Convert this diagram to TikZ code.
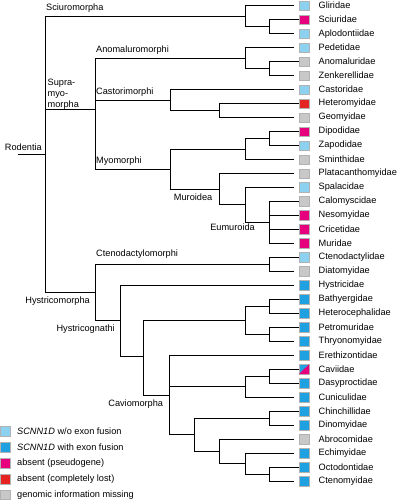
\documentclass[tikz,border=0pt]{standalone}
\usepackage{fontspec}
\setmainfont{Liberation Sans}
\usetikzlibrary{positioning}

\tikzstyle{fam} = [draw=black!30, rectangle, line width=0.3pt, inner sep=0pt,
                   minimum width=10pt, minimum height=9.6pt]
\tikzstyle{nm} = [label distance=6pt]
\tikzstyle{branch} = [draw, line width=0.9pt]
\tikzstyle{tip} = [branch, shorten >=4.6pt]
\tikzstyle{clade} = [anchor=base west, inner sep=0pt, xshift=1pt, yshift=5.8pt]
\tikzstyle{cladeb} = [anchor=base east, inner sep=0pt, xshift=-5pt, yshift=-11pt]

\begin{document}
\begin{tikzpicture}[x=1pt, y=-1pt, node distance=6pt,
                    font=\fontsize{9.2}{10.8}\selectfont]

\definecolor{fillL}{HTML}{8CD2F0}
\definecolor{fillB}{HTML}{1EA0E1}
\definecolor{fillM}{HTML}{E6007E}
\definecolor{fillR}{HTML}{E52421}
\definecolor{fillG}{HTML}{C8C8C8}

\def\xL{304}

\useasboundingbox (0,0) rectangle (398,500);

\node[fam,fill=fillL,label={[nm]right:Gliridae}] (Glir) at (\xL,5.7) {};
\node[fam,fill=fillM,label={[nm]right:Sciuridae}] (Sciu) at (\xL,19.68) {};
\node[fam,fill=fillL,label={[nm]right:Aplodontiidae}] (Aplo) at (\xL,33.66) {};
\node[fam,fill=fillL,label={[nm]right:Pedetidae}] (Pede) at (\xL,47.64) {};
\node[fam,fill=fillG,label={[nm]right:Anomaluridae}] (Anom) at (\xL,61.62) {};
\node[fam,fill=fillG,label={[nm]right:Zenkerellidae}] (Zenk) at (\xL,75.6) {};
\node[fam,fill=fillL,label={[nm]right:Castoridae}] (Cast) at (\xL,89.58) {};
\node[fam,fill=fillR,label={[nm]right:Heteromyidae}] (Hete) at (\xL,103.56) {};
\node[fam,fill=fillG,label={[nm]right:Geomyidae}] (Geom) at (\xL,117.54) {};
\node[fam,fill=fillM,label={[nm]right:Dipodidae}] (Dipo) at (\xL,131.52) {};
\node[fam,fill=fillL,label={[nm]right:Zapodidae}] (Zapo) at (\xL,145.5) {};
\node[fam,fill=fillG,label={[nm]right:Sminthidae}] (Smin) at (\xL,159.48) {};
\node[fam,fill=fillG,label={[nm]right:Platacanthomyidae}] (Plat) at (\xL,173.46) {};
\node[fam,fill=fillL,label={[nm]right:Spalacidae}] (Spal) at (\xL,187.44) {};
\node[fam,fill=fillG,label={[nm]right:Calomyscidae}] (Calo) at (\xL,201.42) {};
\node[fam,fill=fillM,label={[nm]right:Nesomyidae}] (Neso) at (\xL,215.4) {};
\node[fam,fill=fillM,label={[nm]right:Cricetidae}] (Cric) at (\xL,229.38) {};
\node[fam,fill=fillM,label={[nm]right:Muridae}] (Muri) at (\xL,243.36) {};
\node[fam,fill=fillL,label={[nm]right:Ctenodactylidae}] (Ctdy) at (\xL,257.34) {};
\node[fam,fill=fillG,label={[nm]right:Diatomyidae}] (Diat) at (\xL,271.32) {};
\node[fam,fill=fillB,label={[nm]right:Hystricidae}] (Hyst) at (\xL,285.3) {};
\node[fam,fill=fillB,label={[nm]right:Bathyergidae}] (Bath) at (\xL,299.28) {};
\node[fam,fill=fillB,label={[nm]right:Heterocephalidae}] (Hcep) at (\xL,313.26) {};
\node[fam,fill=fillB,label={[nm]right:Petromuridae}] (Petr) at (\xL,327.24) {};
\node[fam,fill=fillB,label={[nm]right:Thryonomyidae}] (Thry) at (\xL,341.22) {};
\node[fam,fill=fillB,label={[nm]right:Erethizontidae}] (Eret) at (\xL,355.2) {};
\node[fam,fill=fillB,label={[nm]right:Caviidae}] (Cavi) at (\xL,369.18) {};
\node[fam,fill=fillB,label={[nm]right:Dasyproctidae}] (Dasy) at (\xL,383.16) {};
\node[fam,fill=fillB,label={[nm]right:Cuniculidae}] (Cuni) at (\xL,397.14) {};
\node[fam,fill=fillB,label={[nm]right:Chinchillidae}] (Chin) at (\xL,411.12) {};
\node[fam,fill=fillB,label={[nm]right:Dinomyidae}] (Dino) at (\xL,425.1) {};
\node[fam,fill=fillG,label={[nm]right:Abrocomidae}] (Abro) at (\xL,439.08) {};
\node[fam,fill=fillB,label={[nm]right:Echimyidae}] (Echi) at (\xL,453.06) {};
\node[fam,fill=fillB,label={[nm]right:Octodontidae}] (Octo) at (\xL,467.04) {};
\node[fam,fill=fillB,label={[nm]right:Ctenomyidae}] (Ctno) at (\xL,481.02) {};

\fill[fillM] (Cavi.south west) -- (Cavi.south east) -- (Cavi.north east) -- cycle;

\coordinate (stem) at (18,154.3);
\coordinate (Rod) at (45,154.3);
\coordinate (Sci) at (245,16.19);
\coordinate (SciA) at (269.3,26.67);
\coordinate (Sup) at (95,109.1);
\coordinate (Ano) at (245,58.13);
\coordinate (AnoZ) at (269.3,68.61);
\coordinate (Cas) at (170,100.07);
\coordinate (CasG) at (219.5,110.55);
\coordinate (Myo) at (170,169.09);
\coordinate (Dip) at (245,148.99);
\coordinate (DipZ) at (269.3,138.51);
\coordinate (Mur) at (219.5,189.19);
\coordinate (MurS) at (245,204.92);
\coordinate (Eum) at (269.3,222.39);
\coordinate (Hys) at (95,292.5);
\coordinate (Cte) at (269.3,264.33);
\coordinate (Hgn) at (120,320.65);
\coordinate (HgnS) at (143.3,356);
\coordinate (Phi) at (245,320.25);
\coordinate (PhiB) at (269.3,306.27);
\coordinate (PhiP) at (269.3,334.23);
\coordinate (Cav) at (169.3,394.96);
\coordinate (CavD) at (245,386.66);
\coordinate (CavC) at (269.3,376.17);
\coordinate (Chi) at (194.3,434.71);
\coordinate (ChiD) at (269.3,418.11);
\coordinate (Oct) at (219.5,451.31);
\coordinate (OctE) at (245,463.55);
\coordinate (OctC) at (269.3,474.03);

\draw[branch] (stem) -- (Rod);
\draw[branch] (Rod) |- (Sci) (Rod) |- (Sup) (Rod) |- (Hys);

\draw[tip] (Sci) |- (Glir);
\draw[branch] (Sci) |- (SciA);
\draw[tip] (SciA) |- (Sciu) (SciA) |- (Aplo);

\draw[branch] (Sup) |- (Ano) (Sup) |- (Cas) (Sup) |- (Myo);
\draw[tip] (Ano) |- (Pede);
\draw[branch] (Ano) |- (AnoZ);
\draw[tip] (AnoZ) |- (Anom) (AnoZ) |- (Zenk);
\draw[tip] (Cas) |- (Cast);
\draw[branch] (Cas) |- (CasG);
\draw[tip] (CasG) |- (Hete) (CasG) |- (Geom);

\draw[branch] (Myo) |- (Dip) (Myo) |- (Mur);
\draw[branch] (Dip) |- (DipZ);
\draw[tip] (DipZ) |- (Dipo) (DipZ) |- (Zapo) (Dip) |- (Smin);
\draw[tip] (Mur) |- (Plat);
\draw[branch] (Mur) |- (MurS);
\draw[tip] (MurS) |- (Spal);
\draw[branch] (MurS) |- (Eum);
\draw[tip] (Eum) |- (Calo) (Eum) |- (Neso) (Eum) |- (Cric) (Eum) |- (Muri);

\draw[branch] (Hys) |- (Cte) (Hys) |- (Hgn);
\draw[tip] (Cte) |- (Ctdy) (Cte) |- (Diat);
\draw[tip] (Hgn) |- (Hyst);
\draw[branch] (Hgn) |- (HgnS);
\draw[branch] (HgnS) |- (Phi) (HgnS) |- (Cav);
\draw[branch] (Phi) |- (PhiB) (Phi) |- (PhiP);
\draw[tip] (PhiB) |- (Bath) (PhiB) |- (Hcep) (PhiP) |- (Petr) (PhiP) |- (Thry);

\draw[tip] (Cav) |- (Eret);
\draw[branch] (Cav) |- (CavD) (Cav) |- (Chi);
\draw[branch] (CavD) |- (CavC);
\draw[tip] (CavC) |- (Cavi) (CavC) |- (Dasy) (CavD) |- (Cuni);
\draw[branch] (Chi) |- (ChiD) (Chi) |- (Oct);
\draw[tip] (ChiD) |- (Chin) (ChiD) |- (Dino);
\draw[tip] (Oct) |- (Abro);
\draw[branch] (Oct) |- (OctE);
\draw[tip] (OctE) |- (Echi);
\draw[branch] (OctE) |- (OctC);
\draw[tip] (OctC) |- (Octo) (OctC) |- (Ctno);

\node[anchor=base east,inner sep=0pt,xshift=-3pt,yshift=4.3pt]
      (lRod) at (Rod) {Rodentia};
\node[clade] (lSci) at (Rod |- Sci) {Sciuromorpha};
\node[anchor=base west,align=left,inner sep=0pt,xshift=2.5pt,yshift=1.7pt]
      (lSup) at (Rod |- Sup) {Supra-\\myo-\\morpha};
\node[clade] (lAno) at (Sup |- Ano) {Anomaluromorphi};
\node[clade] (lCas) at (Sup |- Cas) {Castorimorphi};
\node[clade] (lMyo) at (Sup |- Myo) {Myomorphi};
\node[cladeb,xshift=-2pt] (lMur) at (Mur) {Muroidea};
\node[cladeb,xshift=-9.3pt,yshift=2.4pt] (lEum) at (Eum) {Eumuroida};
\node[clade,yshift=1.6pt] (lCte) at (Hys |- Cte) {Ctenodactylomorphi};
\node[cladeb] (lHys) at (Hys) {Hystricomorpha};
\node[cladeb] (lHgn) at (Hgn) {Hystricognathi};
\node[cladeb,xshift=-1pt,yshift=-1pt] (lCav) at (Cav) {Caviomorpha};

\node[fam,fill=fillL,label={[label distance=3.3pt]right:\textit{SCNN1D} w/o exon fusion}]
      (key1) at (5.2,431.2) {};
\node[fam,fill=fillB,below=of key1,label={[label distance=3.3pt]right:\textit{SCNN1D} with exon fusion}]
      (key2) {};
\node[fam,fill=fillM,below=of key2,label={[label distance=3.3pt]right:absent (pseudogene)}]
      (key3) {};
\node[fam,fill=fillR,below=of key3,label={[label distance=3.3pt]right:absent (completely lost)}]
      (key4) {};
\node[fam,fill=fillG,below=of key4,label={[label distance=3.3pt]right:genomic information missing}]
      (key5) {};

\end{tikzpicture}
\end{document}
